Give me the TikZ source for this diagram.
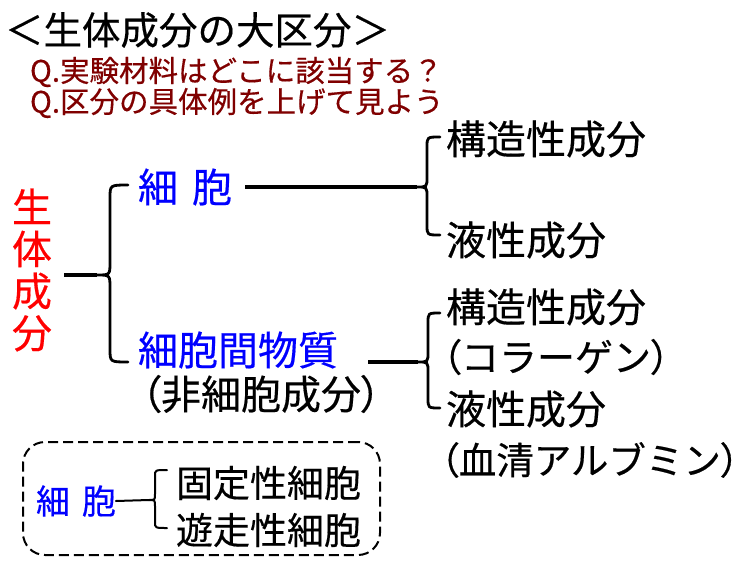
\documentclass[tikz,border=0pt]{standalone}
\usepackage{fontspec}
\setmainfont{Noto Sans CJK JP}[FakeBold=0.4]
\newfontfamily\pfont{Noto Sans CJK JP}[RawFeature=+palt,FakeBold=0.4]
\newcommand{\lp}{{\pfont （}}
\newcommand{\rp}{{\pfont ）}}
\definecolor{qred}{RGB}{128,0,0}
\definecolor{cblue}{RGB}{0,0,255}
\definecolor{cred}{RGB}{255,0,0}
\newcommand{\mybrace}[6]{(#5,#2) .. controls (#1,#2) .. (#1,#2+#6) -- (#1,#3-#6) .. controls (#1,#3) .. (#1-#6,#3) .. controls (#1,#3) .. (#1,#3+#6) -- (#1,#4-#6) .. controls (#1,#4) .. (#5,#4)}
\tikzset{
  txt/.style={inner sep=0pt, outer sep=0pt, anchor=west},
  bigtxt/.style={txt, font=\fontsize{40}{44}\selectfont},
  midtxt/.style={txt, font=\fontsize{38}{42}\selectfont},
  conn/.style={line width=3.2pt},
  bracestyle/.style={line width=2.8pt, line cap=round},
  smallbrace/.style={line width=2pt, line cap=round},
}
\begin{document}
\begin{tikzpicture}[x=1pt,y=-1pt]
\useasboundingbox[fill=white] (0,0) rectangle (750,563);
% title and questions
\node[txt, font=\fontsize{38.5}{40}\selectfont] (title) at (5,30) {＜生体成分の大区分＞};
\node[txt, font=\fontsize{29.5}{32}\selectfont, text=qred] (q1) at (30,72) {Q.実験材料はどこに該当する？};
\node[txt, font=\fontsize{29.5}{32}\selectfont, text=qred] (q2) at (30,103) {Q.区分の具体例を上げて見よう};
% body component
\node[inner sep=0pt, align=center, font=\fontsize{40}{42}\selectfont, text=cred] (body) at (32,270) {生\\体\\成\\分};
\coordinate (b1in) at (64,275);
\coordinate (b1) at (97,275);
\draw[conn] (b1in) -- (b1);
\draw[bracestyle] \mybrace{110}{185}{275}{362}{128}{13};
% cells
\node[bigtxt, text=cblue] (cell) at (138,187) {細\hspace{0.35em}胞};
\node[bigtxt, text=cblue] (matrix) at (138,350) {細胞間物質};
\node[bigtxt] (noncell) at (141,394) {\lp 非細胞成分\rp};
% cell branch
\coordinate (c2in) at (245,187);
\coordinate (b2) at (417,187);
\draw[conn] (c2in) -- (b2);
\draw[bracestyle] \mybrace{427}{137}{187}{235}{440}{10};
\node[bigtxt] (s1) at (446,139) {構造性成分};
\node[bigtxt] (l1) at (446,240) {液性成分};
% matrix branch
\coordinate (c3in) at (368,362);
\coordinate (b3) at (418,362);
\draw[conn] (c3in) -- (b3);
\draw[bracestyle] \mybrace{428}{313}{362}{408}{440}{10};
\node[bigtxt] (s2) at (446,307) {構造性成分};
\node[midtxt] (col) at (442,357) {\lp コラーゲン\rp};
\node[bigtxt] (l2) at (446,409) {液性成分};
\node[txt, font=\fontsize{37.5}{42}\selectfont] (alb) at (440,460) {\lp 血清アルブミン\rp};
% dashed box
\node[draw, line width=2pt, dash pattern=on 10pt off 5pt, rounded corners=22pt,
      minimum width=357pt, minimum height=113pt, inner sep=0pt] (frame) at (201.5,498.5) {};
\node[txt, font=\fontsize{34}{38}\selectfont, text=cblue] (cell2) at (36,501) {細\hspace{0.35em}胞};
\coordinate (b4) at (149,500);
\draw[smallbrace] (cell2.east) -- (b4);
\draw[smallbrace] \mybrace{155}{470}{500}{528}{167}{6};
\node[txt, font=\fontsize{37}{40}\selectfont] (fixed) at (176,483) {固定性細胞};
\node[txt, font=\fontsize{37}{40}\selectfont] (wander) at (176,530) {遊走性細胞};
\end{tikzpicture}
\end{document}
